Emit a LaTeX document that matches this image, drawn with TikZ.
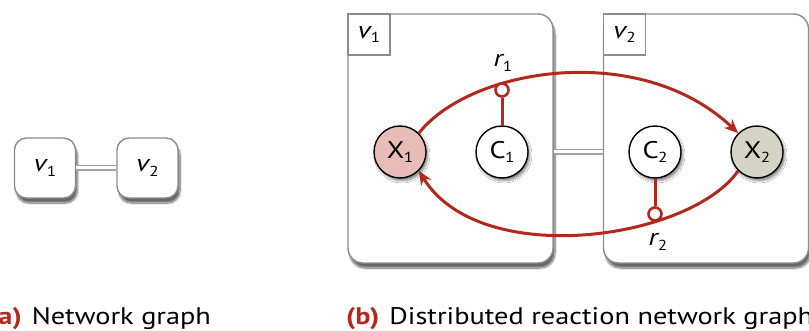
\documentclass[tikz,border=0pt]{standalone}
\usepackage{fontspec}
\setmainfont[FakeStretch=1.18]{PT Sans}
\usetikzlibrary{arrows.meta,shadows,shadows.blur}
\definecolor{rred}{RGB}{178,40,28}
\definecolor{bgray}{RGB}{140,140,140}
\definecolor{xpink}{RGB}{232,188,183}
\definecolor{xgray}{RGB}{211,212,198}
\newcommand{\sbs}[1]{\raisebox{-0.35ex}{\fontsize{14.5}{14.5}\selectfont #1}}
\newcommand{\vlab}[1]{{\itshape v}\kern0.5pt\sbs{#1}}
\newcommand{\rlab}[1]{{\itshape r}\sbs{#1}}
\newcommand{\spc}[2]{#1\kern-0.5pt\sbs{#2}}
\tikzset{
  every node/.style={font=\fontsize{24}{26}\selectfont},
  smallbox/.style={draw=bgray, line width=1.4pt, fill=white, rounded corners=12pt,
     minimum width=61pt, minimum height=60pt, inner sep=0pt,
     blur shadow={shadow xshift=2pt, shadow yshift=-5pt, shadow blur steps=10, shadow opacity=60}},
  bigbox/.style={draw=bgray, line width=1.4pt, fill=white, rounded corners=15pt,
     minimum width=205pt, minimum height=249pt, inner sep=0pt,
     blur shadow={shadow xshift=2pt, shadow yshift=-5pt, shadow blur steps=10, shadow opacity=60}},
  lblbox/.style={draw=bgray, line width=1.4pt, fill=white, anchor=north west,
     minimum width=42pt, minimum height=41pt, inner sep=0pt},
  species/.style={circle, draw=black, line width=1.4pt, minimum size=52pt, inner sep=0pt,
     blur shadow={shadow xshift=2pt, shadow yshift=-3pt, shadow blur steps=6, shadow opacity=45}},
  dbl/.style={draw=bgray!80, line width=1.4pt, double=white, double distance=3pt},
  react/.style={draw=rred, line width=3pt, -{Stealth[length=14pt,width=12pt]}},
  inhib/.style={circle, draw=rred, line width=2.6pt, fill=white, minimum size=13pt, inner sep=0pt},
  inhline/.style={draw=rred, line width=3pt},
  captxt/.style={anchor=base west, inner sep=0pt}
}
\begin{document}
\begin{tikzpicture}[x=1pt,y=-1pt]
\useasboundingbox (0,0) rectangle (809,331);
% (a)
\node[smallbox] (a1) at (45,168) {\vlab{1}};
\node[smallbox] (a2) at (147.5,168) {\vlab{2}};
\draw[dbl] (a1) -- (a2);
% (b) boxes
\node[bigbox] (B1) at (450.5,138.5) {};
\node[bigbox] (B2) at (706,138.5) {};
\node[lblbox] (L1) at (B1.north west) {\vlab{1}};
\node[lblbox] (L2) at (B2.north west) {\vlab{2}};
% species
\node[species, fill=xpink] (X1) at (400,152) {\spc{X}{1}};
\node[species, fill=white] (C1) at (502,152) {\spc{C}{1}};
\node[species, fill=white] (C2) at (655,152) {\spc{C}{2}};
\node[species, fill=xgray] (X2) at (757,152) {\spc{X}{2}};
\draw[dbl] (B1.east |- C1) -- (B2.west |- C1);
% reactions
\draw[react] (X1.45) .. controls (470,68) and (640,40) .. (X2.135);
\draw[react] (X2.225) .. controls (690,240) and (480,270) .. (X1.-45);
\node[inhib] (i1) at (502,90) {};
\node[inhib] (i2) at (655,214) {};
\draw[inhline] (C1.north) -- (i1.south);
\draw[inhline] (C2.south) -- (i2.north);
\node (r1) at (503,63) {\rlab{1}};
\node (r2) at (658,242) {\rlab{2}};
% captions
\node[captxt] (capa) at (-11,324) {{\bfseries\color{rred}(a)}\hspace{10pt}Network graph};
\node[captxt] (capb) at (346,324) {{\bfseries\color{rred}(b)}\hspace{10pt}Distributed reaction network graph};
\end{tikzpicture}
\end{document}
